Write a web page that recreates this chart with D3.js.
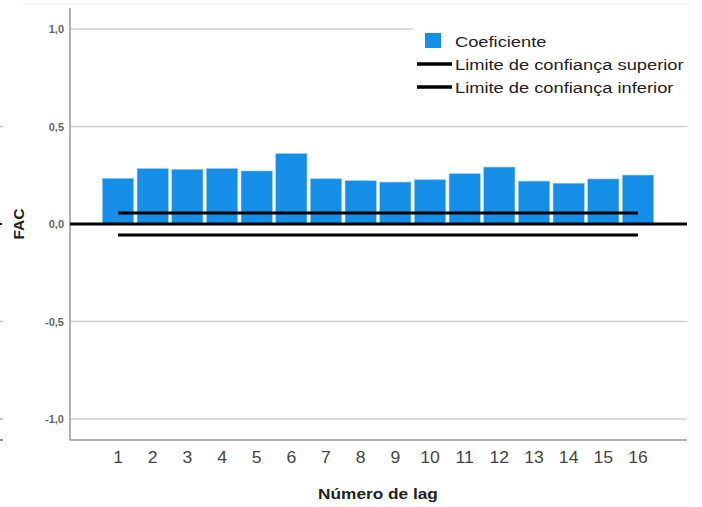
<!DOCTYPE html>
<html>
<head>
<meta charset="utf-8">
<script src="https://cdn.jsdelivr.net/npm/d3@7"></script>
<style>
  body { margin: 0; background: #fff; }
  svg { font-family: "Liberation Sans", Arial, sans-serif; }
</style>
</head>
<body>
<div id="chart"></div>
<script>
// data
const lags = [1, 2, 3, 4, 5, 6, 7, 8, 9, 10, 11, 12, 13, 14, 15, 16]
const coeficiente = [0.234, 0.284, 0.280, 0.284, 0.272, 0.361, 0.232, 0.222, 0.215, 0.227, 0.258, 0.292, 0.220, 0.209, 0.231, 0.251]
const limiteSuperior = [0.057, 0.057, 0.057, 0.057, 0.057, 0.057, 0.057, 0.057, 0.057, 0.057, 0.057, 0.057, 0.057, 0.057, 0.057, 0.057]
const limiteInferior = [-0.057, -0.057, -0.057, -0.057, -0.057, -0.057, -0.057, -0.057, -0.057, -0.057, -0.057, -0.057, -0.057, -0.057, -0.057, -0.057]
const yTicks = [-1.0, -0.5, 0.0, 0.5, 1.0]
const legendLabels = ["Coeficiente", "Limite de confiança superior", "Limite de confiança inferior"]

const width = 702
const height = 507
const plot = { left: 70, right: 687, top: 8, bottom: 440 }
const blue = "#148ee6"
const stretch = 1.18 // the source picture is a bit wider than tall

let svg = d3.select('div#chart').append('svg').attr('width', width).attr('height', height)

let y = d3.scaleLinear().domain([-1.108, 1.108]).range([plot.bottom, plot.top])
let x = d3.scaleBand().domain(lags).range([100.7, 655.3]).paddingInner(0.1).paddingOuter(0.05)
let xc = d => x(d) + x.bandwidth() / 2

// faint frame left over from the crop
svg.append('line').attr('x1', 22).attr('x2', 690).attr('y1', 4).attr('y2', 4)
    .attr('stroke', '#f0f0f0').attr('stroke-width', 1)
svg.append('line').attr('x1', 689).attr('x2', 689).attr('y1', 4).attr('y2', 507)
    .attr('stroke', '#f2f2f2').attr('stroke-width', 1)

// gridlines
let grid = svg.append('g').attr('id', 'grid')
grid.selectAll('line').data(yTicks.filter(t => t !== 0)).join('line')
    .attr('x1', plot.left).attr('x2', plot.right)
    .attr('y1', d => y(d)).attr('y2', d => y(d))
    .attr('stroke', '#d0d0d0').attr('stroke-width', 1.5)

// small stubs on the left edge
svg.selectAll('line.stub').data([0.5, -0.5, -1.0]).join('line').attr('class', 'stub')
    .attr('x1', 0).attr('x2', 3).attr('y1', d => y(d)).attr('y2', d => y(d))
    .attr('stroke', '#bbb').attr('stroke-width', 1.5)
svg.append('line').attr('x1', 0).attr('x2', 3).attr('y1', 440).attr('y2', 440)
    .attr('stroke', '#666').attr('stroke-width', 1.5)
svg.append('line').attr('x1', 0).attr('x2', 2).attr('y1', y(0)).attr('y2', y(0))
    .attr('stroke', '#000').attr('stroke-width', 2)

// axes
let yAxis = d3.axisLeft(y).tickValues(yTicks).tickSize(0).tickPadding(6)
    .tickFormat(d => d3.format('.1f')(d).replace('.', ',').replace('−', '-'))
let yAxisGroup = svg.append('g').attr('transform', `translate(${plot.left},0)`).call(yAxis)
yAxisGroup.select('.domain').remove()
yAxisGroup.selectAll('text').attr('font-size', 11).attr('font-weight', 'bold').attr('fill', '#666')

let xAxis = d3.axisBottom(x).tickSize(0).tickPadding(12)
let xAxisGroup = svg.append('g').attr('transform', `translate(0,${plot.bottom})`).call(xAxis)
xAxisGroup.select('.domain').remove()
xAxisGroup.selectAll('text').attr('font-size', 16).attr('fill', '#444')
    .attr('transform', `scale(1.1,1)`)

svg.append('line').attr('x1', plot.left).attr('x2', plot.left).attr('y1', plot.top).attr('y2', plot.bottom)
    .attr('stroke', '#999').attr('stroke-width', 1.5)
svg.append('line').attr('x1', plot.left).attr('x2', plot.right).attr('y1', plot.bottom).attr('y2', plot.bottom)
    .attr('stroke', '#999').attr('stroke-width', 1.5)

// bars
svg.append('g').selectAll('rect').data(lags).join('rect')
    .attr('x', d => x(d))
    .attr('width', x.bandwidth())
    .attr('y', (d, i) => y(coeficiente[i]))
    .attr('height', (d, i) => y(0) - y(coeficiente[i]))
    .attr('fill', blue)
    .attr('stroke', '#8cc6f2').attr('stroke-width', 0.6)

// zero line
svg.append('line').attr('x1', plot.left).attr('x2', plot.right).attr('y1', y(0)).attr('y2', y(0))
    .attr('stroke', '#000').attr('stroke-width', 3)

// confidence limits
let line = vals => d3.line().x(d => xc(d)).y((d, i) => y(vals[i]))
svg.append('path').datum(lags).attr('d', line(limiteSuperior))
    .attr('fill', 'none').attr('stroke', '#000').attr('stroke-width', 3)
svg.append('path').datum(lags).attr('d', line(limiteInferior))
    .attr('fill', 'none').attr('stroke', '#000').attr('stroke-width', 3)

// axis titles
svg.append('text').attr('transform', `translate(378,499) scale(1.15,1)`).attr('text-anchor', 'middle')
    .attr('font-size', 15).attr('font-weight', 'bold').attr('fill', '#222').text('Número de lag')
svg.append('text').attr('transform', `translate(24,${y(0)}) rotate(-90)`).attr('text-anchor', 'middle')
    .attr('font-size', 15.5).attr('font-weight', 'bold').attr('fill', '#222').text('FAC')

// legend
let legendGroup = svg.append('g').attr('id', 'legendGroup')
legendGroup.append('rect').attr('x', 413).attr('y', 22).attr('width', 275).attr('height', 80).attr('fill', '#fff')
legendGroup.append('rect').attr('x', 425).attr('y', 33).attr('width', 16).attr('height', 15).attr('fill', blue)
legendGroup.selectAll('line').data(legendLabels.slice(1)).join('line')
    .attr('x1', 417).attr('x2', 452)
    .attr('y1', (d, i) => 64 + i * 23).attr('y2', (d, i) => 64 + i * 23)
    .attr('stroke', '#000').attr('stroke-width', 3.5)
legendGroup.selectAll('text').data(legendLabels).join('text')
    .attr('transform', (d, i) => `translate(455,${47 + i * 23}) scale(${stretch},1)`)
    .attr('font-size', 15.5).attr('fill', '#222').text(d => d)
</script>
</body>
</html>
